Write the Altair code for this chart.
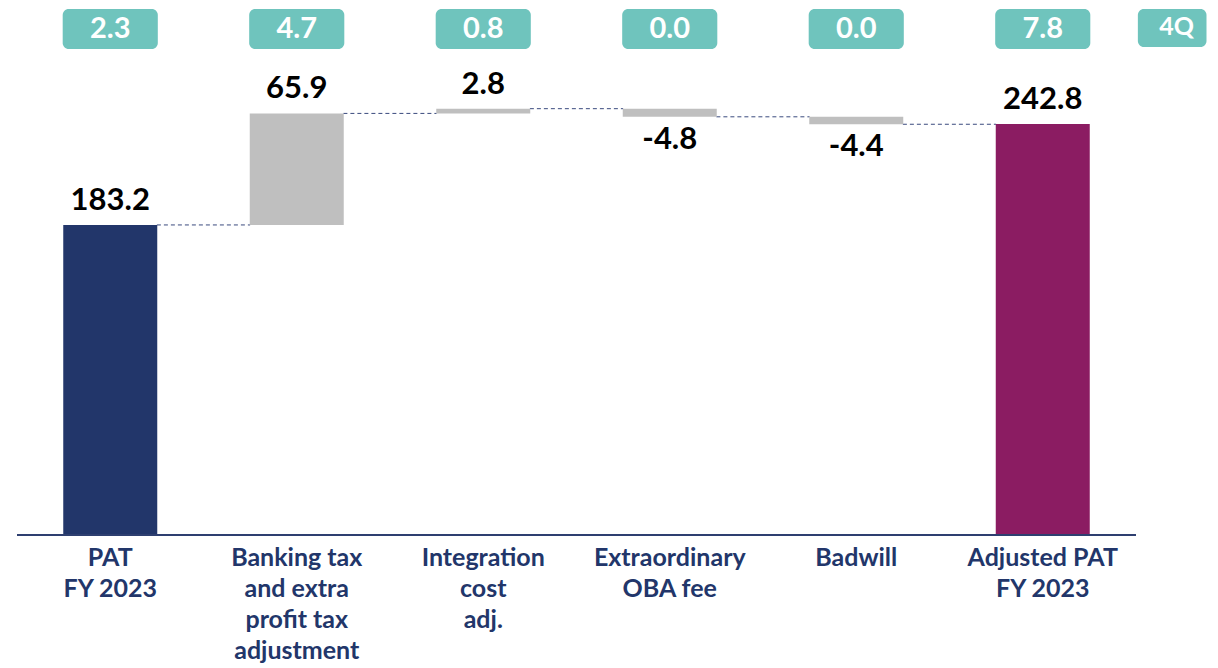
import altair as alt
import pandas as pd

categories = ["PAT|FY 2023", "Banking tax|and extra|profit tax|adjustment",
              "Integration|cost|adj.", "Extraordinary|OBA fee", "Badwill",
              "Adjusted PAT|FY 2023"]
values = [183.2, 65.9, 2.8, -4.8, -4.4, 242.8]
kinds = ["total", "delta", "delta", "delta", "delta", "total"]
q4_values = ["2.3", "4.7", "0.8", "0.0", "0.0", "7.8"]
q4_tag = ["4Q"]
bar_colors = ["#22366A", "#BFBFBF", "#BFBFBF", "#BFBFBF", "#BFBFBF", "#8B1C62"]

rows = []
running = 0.0
for i, (c, v, k, q, col) in enumerate(zip(categories, values, kinds, q4_values, bar_colors)):
    if k == "total":
        start, end = 0.0, v
        running = v
    else:
        start, end = running, running + v
        running = end
    rows.append(dict(idx=i, cat=c, value=v, start=start, end=end,
                     label=f"{v:.1f}", q4=q, color=col))
df = pd.DataFrame(rows)
conn = df.iloc[:-1].copy()
tag_df = pd.DataFrame({"tag": q4_tag, "pos": [5.718]})

FONT = "Lato"

xscale = alt.Scale(domain=[-0.5, 5.5], nice=False, zero=False)
yscale = alt.Scale(domain=[0, 310.8], nice=False, zero=True)


def X(field, **kw):
    return alt.X(field, scale=xscale, axis=None, **kw)


def Y(field):
    return alt.Y(field, scale=yscale, axis=None)


base = alt.Chart(df)

bars = base.mark_bar(size=94).encode(
    x=X("idx:Q"),
    y=Y("start:Q"),
    y2="end:Q",
    color=alt.Color("color:N", scale=None),
)

baseline = base.transform_aggregate(n="count()").transform_calculate(
    xa="-0.5", xb="5.5", yz="0"
).mark_rule(color="#2E3F70", strokeWidth=2).encode(
    x=X("xa:Q"), x2="xb:Q", y=Y("yz:Q"),
)

cat_labels = base.mark_text(font=FONT, fontSize=25, fontWeight="bold", color="#22366A",
                            baseline="top", lineBreak="|", lineHeight=31).encode(
    x=X("idx:Q"),
    y=alt.value(537),
    text="cat:N",
)

connectors = alt.Chart(conn).transform_calculate(
    xa="datum.idx + 0.25", xb="datum.idx + 0.75"
).mark_rule(color="#3A4A7E", strokeWidth=1, strokeDash=[4, 3]).encode(
    x=X("xa:Q"),
    x2="xb:Q",
    y=Y("end:Q"),
)

pos_labels = base.transform_filter("datum.value >= 0").transform_calculate(
    top="max(datum.start, datum.end)"
).mark_text(font=FONT, fontSize=31, fontWeight="bold", color="#000000",
            baseline="middle", dy=-24).encode(
    x=X("idx:Q"),
    y=Y("top:Q"),
    text="label:N",
)

neg_labels = base.transform_filter("datum.value < 0").transform_calculate(
    bot="min(datum.start, datum.end)"
).mark_text(font=FONT, fontSize=31, fontWeight="bold", color="#000000",
            baseline="middle", dy=23).encode(
    x=X("idx:Q"),
    y=Y("bot:Q"),
    text="label:N",
)

boxes = base.transform_calculate(
    xa="datum.idx - 0.255", xb="datum.idx + 0.255"
).mark_rect(color="#6FC4BD", cornerRadius=6).encode(
    x=X("xa:Q"),
    x2="xb:Q",
    y=alt.value(0),
    y2=alt.value(40),
)

box_text = base.mark_text(font=FONT, fontSize=29, fontWeight="bold", color="white",
                          baseline="middle").encode(
    x=X("idx:Q"),
    y=alt.value(20),
    text="q4:N",
)

tag_box = alt.Chart(tag_df).transform_calculate(
    xa="datum.pos - 0.208", xb="datum.pos + 0.16"
).mark_rect(color="#6FC4BD", cornerRadius=6).encode(
    x=X("xa:Q"),
    x2="xb:Q",
    y=alt.value(0),
    y2=alt.value(38),
)

tag_text = alt.Chart(tag_df).mark_text(font=FONT, fontSize=25, fontWeight="bold",
                                       color="white", baseline="middle").encode(
    x=X("pos:Q"),
    y=alt.value(18),
    text="tag:N",
)

chart = alt.layer(
    connectors, bars, baseline, pos_labels, neg_labels, boxes, box_text,
    tag_box, tag_text, cat_labels
).properties(
    width=1129, height=526,
    background="white",
    autosize=alt.AutoSizeParams(type="none"),
    padding={"left": 4, "top": 1, "right": 69, "bottom": 132},
).configure_view(stroke=None)

chart.save("out.html", embed_options={"renderer": "svg", "actions": False})
